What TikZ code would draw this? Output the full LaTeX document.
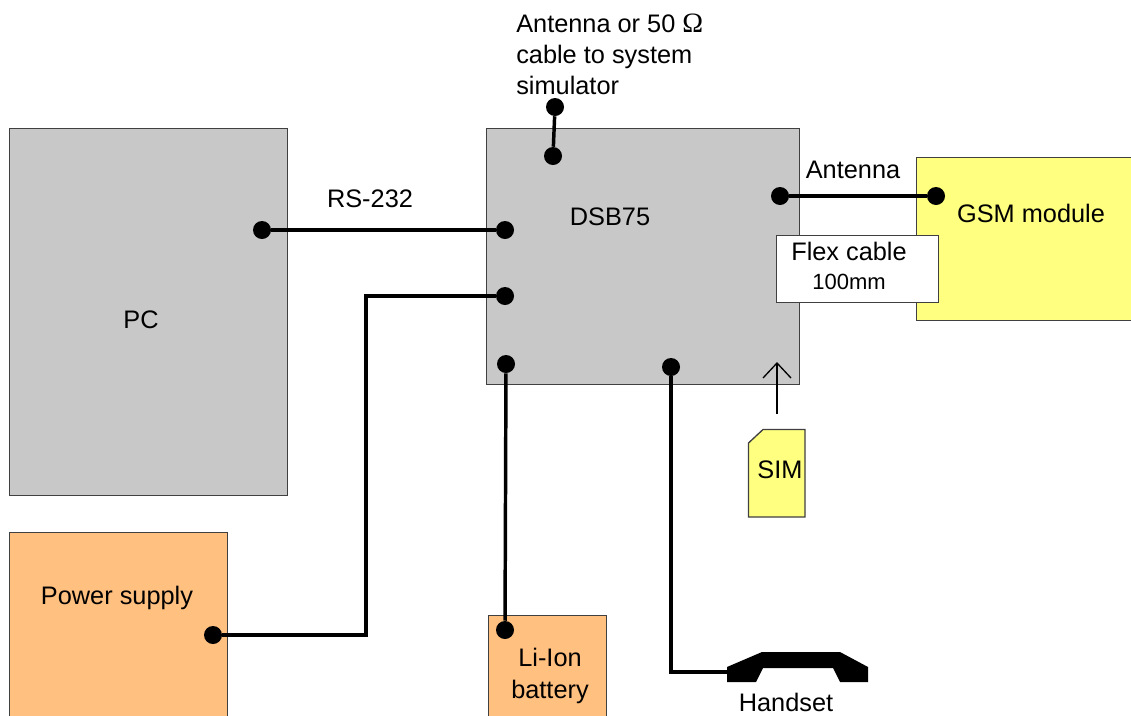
\documentclass[tikz,border=0pt]{standalone}
\usepackage{fontspec}
\setmainfont{Liberation Sans}
\newfontfamily\omegafont{Liberation Serif}
\definecolor{boxgray}{HTML}{C8C8C8}
\definecolor{boxyellow}{HTML}{FFFF80}
\definecolor{boxorange}{HTML}{FFC080}
\definecolor{edgegray}{HTML}{404040}
\tikzset{
  block/.style={draw=edgegray,line width=1pt,inner sep=0pt,anchor=north west},
  lbl/.style={inner sep=0pt,font=\fontsize{19}{23.5}\selectfont,align=center},
  lblleft/.style={inner sep=0pt,font=\fontsize{19}{23.3}\selectfont,align=left},
  port/.style={circle,fill=black,inner sep=0pt,minimum size=13.5pt},
  wire/.style={line width=2.6pt,black},
  thin arrow/.style={line width=1pt,black}
}
\begin{document}
\begin{tikzpicture}[x=0.75pt,y=-0.75pt]
\useasboundingbox (0,0) rectangle (1131,715);
\clip (0,0) rectangle (1131,715);
% blocks
\node[block,fill=boxgray,minimum width=208.5pt,minimum height=275.25pt] (pc) at (9,128) {};
\node[block,fill=boxgray,minimum width=234.75pt,minimum height=192pt] (dsb) at (486,128) {};
\node[block,fill=boxyellow,minimum width=180pt,minimum height=122.25pt] (gsm) at (916,157) {};
\node[block,fill=boxorange,minimum width=163.5pt,minimum height=150pt] (psu) at (9,532) {};
\node[block,fill=boxorange,minimum width=88.5pt,minimum height=90pt] (bat) at (488,615) {};
\node[block,fill=white,minimum width=121.5pt,minimum height=50.25pt] (flex) at (776,234.5) {};
% SIM and handset
\draw[draw=edgegray,line width=1pt,fill=boxyellow] (748.5,443) -- (763,429.5) -- (805,429.5) -- (805,517) -- (748.5,517) -- cycle;
\fill[black] (727,667) -- (762,652) -- (840,652) -- (868,667) -- (868,682) -- (840,682) -- (833,668) -- (763,668) -- (756,682) -- (727,682) -- cycle;
% labels
\node[lbl] (pclabel) at (141,320) {PC};
\node[lbl] (dsblabel) at (610,216.5) {DSB75};
\node[lbl] (gsmlabel) at (1031,213) {GSM module};
\node[lbl] (psulabel) at (117,598) {Power supply};
\node[lbl] (batlabel) at (550,676) {Li-Ion\\battery};
\node[lbl] (rslabel) at (370,199) {RS-232};
\node[lbl] (antlabel) at (853,170) {Antenna};
\node[lbl] (simlabel) at (780,470) {SIM};
\node[lbl] (hslabel) at (786,702) {Handset};
\node[lbl] (flexlabel) at (849,251) {Flex cable};
\node[inner sep=0pt,font=\fontsize{16.5}{20}\selectfont] (flexlen) at (849,282) {100mm};
\node[lblleft,anchor=north west] (simulator) at (516,14) {Antenna or 50 {\omegafont\fontsize{21}{23.3}\selectfont Ω}\\cable to system\\simulator};
% ports
\node[port] (p1) at (262,230) {};
\node[port] (p2) at (505,230) {};
\node[port] (p3) at (505,296) {};
\node[port] (p4) at (213,635) {};
\node[port] (p5) at (506,364) {};
\node[port] (p6) at (505,630) {};
\node[port] (p7) at (671,367) {};
\node[port] (p8) at (555,107) {};
\node[port] (p9) at (553,156) {};
\node[port] (p10) at (780,196) {};
\node[port] (p11) at (936,196) {};
\coordinate (hs) at (727,672);
\coordinate (simtop) at (777,414);
\coordinate (simtip) at (777,363);
\coordinate (barbl) at (763,378);
\coordinate (barbr) at (791,378);
% connectors
\draw[wire] (p1) -- (p2);
\draw[wire] (p3) -| (366,635) -- (p4);
\draw[wire] (p5) -- (p6);
\draw[wire] (p7) |- (hs);
\draw[wire] (p8) -- (p9);
\draw[wire] (p10) -- (p11);
\draw[thin arrow] (simtop) -- (simtip);
\draw[thin arrow] (barbl) -- (simtip) -- (barbr);
\end{tikzpicture}
\end{document}
